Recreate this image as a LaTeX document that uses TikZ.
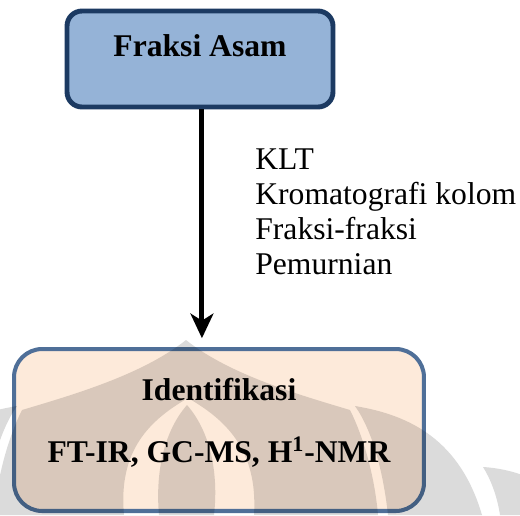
\documentclass[tikz,border=0pt]{standalone}
\usepackage{fontspec}
\setmainfont{Liberation Serif}
\usetikzlibrary{positioning,arrows.meta}

\definecolor{asamfill}{RGB}{149,179,215}
\definecolor{asamline}{RGB}{28,58,98}
\definecolor{idfill}{RGB}{253,234,218}
\definecolor{idline}{RGB}{79,111,152}

\begin{document}
\begin{tikzpicture}[
      x=0.02cm, y=-0.02cm,
      every node/.style={font=\fontsize{18}{20}\selectfont},
      box/.style={
          draw,
          align=center,
          inner sep=0pt
        },
      panah/.style={
          draw, line width=2.8pt,
          -{Stealth[length=14pt,width=13pt,inset=4pt]},
          shorten >=5pt
        },
      makara/.style={fill=black, opacity=0.14}
    ]
    \clip (0,0) rectangle (520,515);

    % kotak atas dan kotak bawah
    \node[box, fill=asamfill, draw=asamline, line width=2.8pt,
          rounded corners=8.5pt, minimum width=5.32cm, minimum height=1.92cm,
          text height=12pt, text depth=14.8pt, font=\fontsize{18}{20}\selectfont\bfseries]
          (asam) at (200,59) {Fraksi Asam};
    \node[box, fill=idfill, draw=idline, line width=2.3pt,
          rounded corners=16pt, minimum width=8.2cm, minimum height=3.24cm,
          font=\fontsize{18}{35.7}\selectfont\bfseries]
          (identifikasi) at (219,430)
          {Identifikasi\\FT-IR, GC-MS, H\textsuperscript{1}-NMR\rule[-11pt]{0pt}{0pt}};

    % tahapan di samping panah
    \node[anchor=north west, align=left, inner sep=0pt] (tahap) at (255,148)
          {KLT\\Kromatografi kolom\\Fraksi-fraksi\\Pemurnian};

    \draw[panah] ([xshift=1.1pt]asam.south) -- ([xshift=1.1pt]asam.south |- identifikasi.north);

    % logo samar di latar
    \fill[makara, even odd rule]
      (186,340) .. controls (230,375) and (300,395) .. (350,410)
                .. controls (365,440) and (375,480) .. (378,515)
      -- (-6,515) .. controls (-3,480) and (7,440) .. (22,410)
                .. controls (72,395) and (142,375) .. (186,340) -- cycle
      (188,398) .. controls (150,420) and (118,450) .. (124,515)
      -- (254,515) .. controls (258,450) and (226,420) .. (188,398) -- cycle;
    \fill[makara]
      (187,405) .. controls (165,430) and (155,470) .. (159,515)
      -- (214,515) .. controls (219,470) and (209,430) .. (187,405) -- cycle;
    \fill[makara]
      (355,406) .. controls (410,415) and (460,440) .. (482,515)
      -- (388,515) .. controls (383,470) and (372,430) .. (355,406) -- cycle;
    \fill[makara]
      (17,406) .. controls (-38,415) and (-88,440) .. (-110,515)
      -- (-16,515) .. controls (-11,470) and (0,430) .. (17,406) -- cycle;
    \fill[makara]
      (483,467) .. controls (500,468) and (515,472) .. (525,476)
      -- (525,515) -- (500,515) .. controls (497,495) and (490,478) .. (483,467) -- cycle;
\end{tikzpicture}
\end{document}
